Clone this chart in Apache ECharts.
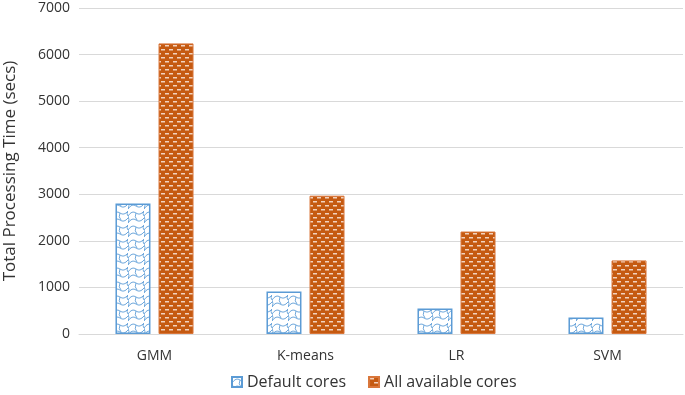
<!DOCTYPE html>
<html>
<head>
<meta charset="utf-8">
<script src="https://cdn.jsdelivr.net/npm/echarts@6/dist/echarts.min.js"></script>
<style>
  html, body { margin: 0; padding: 0; background: #fff; }
  #chart { width: 685px; height: 395px; }
</style>
</head>
<body>
<div id="chart"></div>
<script>
// data
const categories = ["GMM", "K-means", "LR", "SVM"];
const defaultCores = [2800, 915, 550, 355];
const allCores = [6240, 2970, 2200, 1580];
const seriesNames = ["Default cores", "All available cores"];

// blue "shingle" fill pattern
function bluePattern() {
  const c = document.createElement("canvas");
  c.width = 16;
  c.height = 14;
  const ctx = c.getContext("2d");
  ctx.fillStyle = "#ffffff";
  ctx.fillRect(0, 0, 16, 14);
  ctx.strokeStyle = "#6FA8DC";
  ctx.lineWidth = 1;
  ctx.beginPath();
  ctx.moveTo(0, 6);
  ctx.quadraticCurveTo(4, 0, 8, 3);
  ctx.quadraticCurveTo(12, 6, 16, 1);
  ctx.moveTo(8, 3);
  ctx.quadraticCurveTo(6, 7, 9, 10);
  ctx.moveTo(0, 13);
  ctx.quadraticCurveTo(4, 7, 8, 10);
  ctx.quadraticCurveTo(12, 13, 16, 8);
  ctx.moveTo(16, 1);
  ctx.quadraticCurveTo(14, 4, 16, 6);
  ctx.moveTo(0, 6);
  ctx.quadraticCurveTo(2, 10, 0, 13);
  ctx.stroke();
  return c;
}

// orange fill with light dashes
function orangePattern() {
  const c = document.createElement("canvas");
  c.width = 8;
  c.height = 8;
  const ctx = c.getContext("2d");
  ctx.fillStyle = "#C55A11";
  ctx.fillRect(0, 0, 8, 8);
  ctx.fillStyle = "#F2D2BE";
  ctx.fillRect(1, 1, 4, 1.5);
  ctx.fillRect(5, 5, 3, 1.5);
  ctx.fillRect(0, 5, 1, 1.5);
  return c;
}

const chart = echarts.init(document.getElementById("chart"));
const textColor = "#333333";
const font = "Open Sans";

chart.setOption({
  animation: false,
  textStyle: { fontFamily: font },
  grid: { left: 79, right: 2, top: 8, bottom: 61, outerBoundsMode: "none", containLabel: false },
  legend: {
    bottom: 0,
    left: 226,
    itemWidth: 10,
    itemHeight: 10,
    itemGap: 22,
    textStyle: { color: textColor, fontSize: 16, fontFamily: font },
    data: [
      { name: seriesNames[0], icon: "rect" },
      { name: seriesNames[1], icon: "rect" },
    ],
  },
  xAxis: {
    type: "category",
    data: categories,
    axisLine: { lineStyle: { color: "#D9D9D9" } },
    axisTick: { show: false },
    axisLabel: { color: textColor, fontSize: 14, margin: 15 },
  },
  yAxis: {
    type: "value",
    min: 0,
    max: 7000,
    interval: 1000,
    name: "Total Processing Time (secs)",
    nameLocation: "middle",
    nameGap: 60,
    nameTextStyle: { color: textColor, fontSize: 17 },
    axisLine: { show: false },
    axisTick: { show: false },
    axisLabel: {
      color: textColor,
      fontSize: 14,
      margin: 9,
      formatter: (v) => String(v),
    },
    splitLine: { lineStyle: { color: "#D9D9D9" } },
  },
  series: [
    {
      name: seriesNames[0],
      type: "bar",
      data: defaultCores,
      barWidth: 35,
      barGap: "23%",
      itemStyle: {
        color: { image: bluePattern(), repeat: "repeat" },
        borderColor: "#5B9BD5",
        borderWidth: 1.5,
      },
    },
    {
      name: seriesNames[1],
      type: "bar",
      data: allCores,
      barWidth: 35,
      itemStyle: {
        color: { image: orangePattern(), repeat: "repeat" },
        borderColor: "#D9763A",
        borderWidth: 1,
      },
    },
  ],
});
</script>
</body>
</html>
